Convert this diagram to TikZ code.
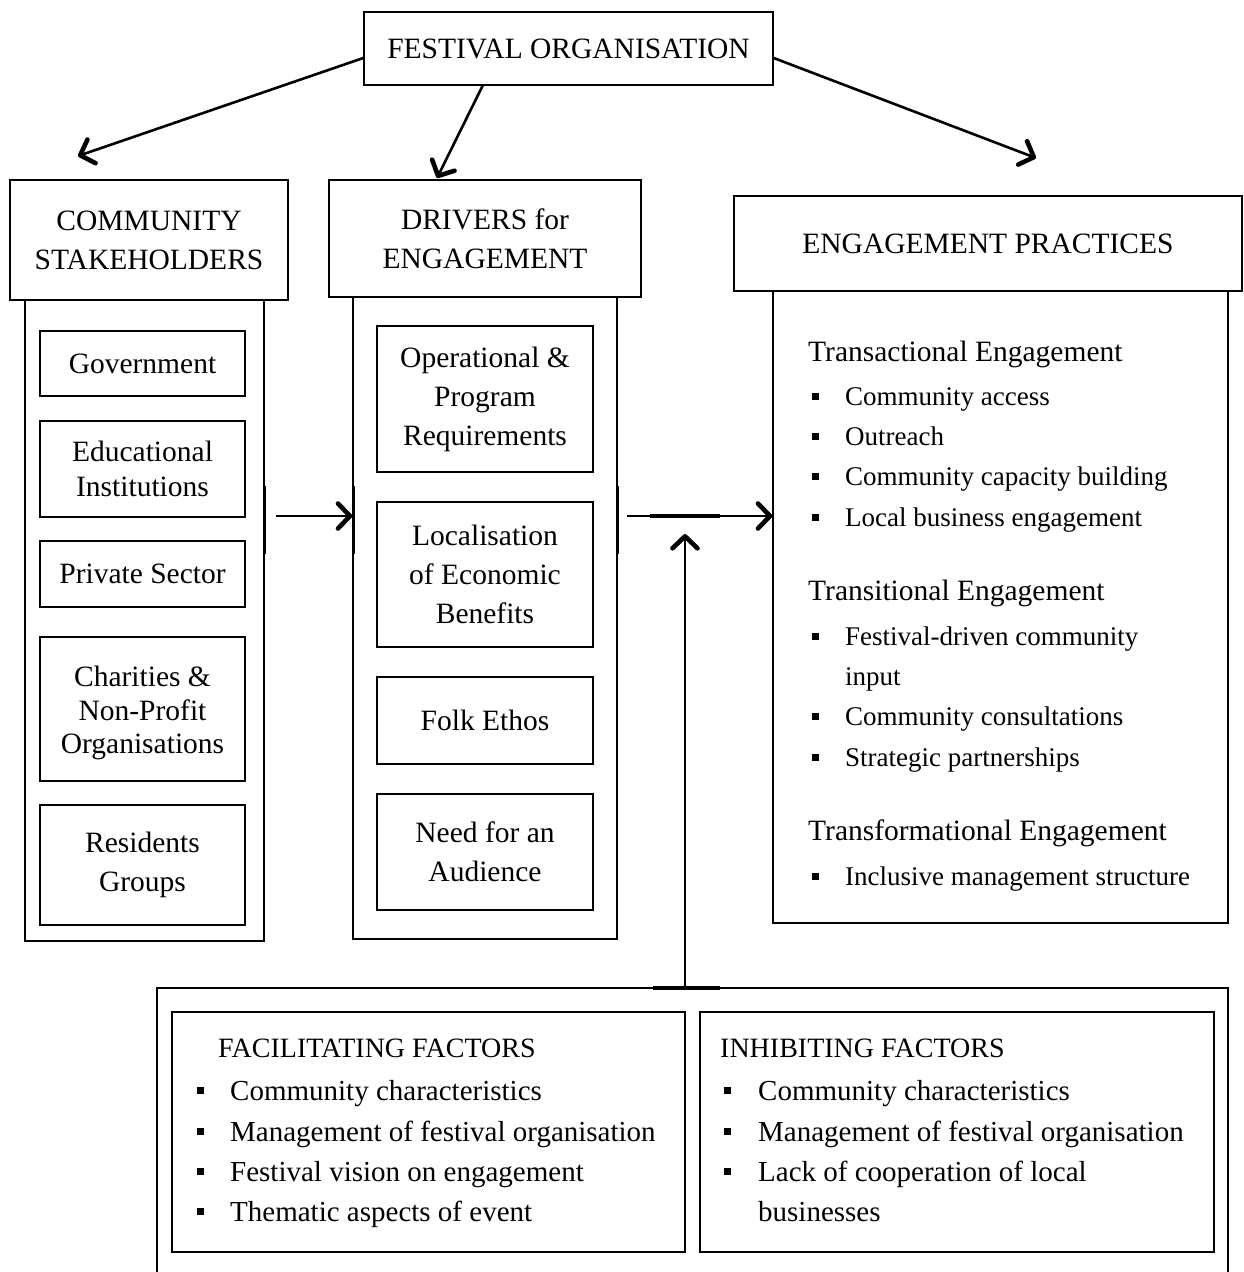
\documentclass[tikz,border=0pt]{standalone}
\usepackage{fontspec}
\setmainfont{Liberation Serif}
\usetikzlibrary{arrows.meta}
\begin{document}
\begin{tikzpicture}[x=1pt,y=-1pt,
  box/.style={draw, line width=1.4pt, inner sep=0pt, align=center, fill=white,
    font=\fontsize{29.5}{39}\selectfont},
  txt/.style={inner sep=0pt, align=center, font=\fontsize{29.5}{33.5}\selectfont},
  arr/.style={line width=2.6pt, -{Straight Barb[length=12pt,width=25pt,line width=4.6pt,round]}},
  sidemark/.style={line width=3pt},
  thickseg/.style={line width=3.2pt},
  head/.style={anchor=base west, inner sep=0pt, font=\fontsize{29.5}{39}\selectfont},
  item/.style={anchor=base west, inner sep=0pt, font=\fontsize{27}{40}\selectfont},
  bhead/.style={anchor=base west, inner sep=0pt, font=\fontsize{28}{39}\selectfont},
  bitem/.style={anchor=base west, inner sep=0pt, font=\fontsize{29}{40}\selectfont},
  bul/.style={fill, minimum size=7pt, inner sep=0pt}]
\clip (0,0) rectangle (1244,1272);
\fill[white] (0,0) rectangle (1244,1272);

% top node
\node[box, minimum width=409pt, minimum height=73pt] (fo) at (568.5,48.5) {FESTIVAL ORGANISATION};

% community stakeholders column
\node[box, minimum width=239pt, minimum height=641pt] (csbody) at (144.5,620.5) {};
\node[box, minimum width=278pt, minimum height=120pt] (cshead) at (149,240) {COMMUNITY\\STAKEHOLDERS};
\node[box, minimum width=205pt, minimum height=65pt] (gov) at (142.5,363.5) {Government};
\node[box, minimum width=205pt, minimum height=96pt, font=\fontsize{29.5}{35}\selectfont] (edu) at (142.5,469) {Educational\\Institutions};
\node[box, minimum width=205pt, minimum height=66pt] (priv) at (142.5,574) {Private Sector};
\node[box, minimum width=205pt, minimum height=144pt] (char) at (142.5,709) {};
\node[txt] (chartxt) at ([yshift=-4pt]char.center) {Charities \&\\Non-Profit\\Organisations};
\node[box, minimum width=205pt, minimum height=120pt] (res) at (142.5,865) {Residents\\Groups};

% drivers column
\node[box, minimum width=264pt, minimum height=642pt] (drbody) at (485,618) {};
\node[box, minimum width=312pt, minimum height=117pt] (drhead) at (485,238.5) {DRIVERS for\\ENGAGEMENT};
\node[box, minimum width=216pt, minimum height=146pt] (op) at (485,399) {Operational \&\\Program\\Requirements};
\node[box, minimum width=216pt, minimum height=145pt] (loc) at (485,574.5) {Localisation\\of Economic\\Benefits};
\node[box, minimum width=216pt, minimum height=87pt] (folk) at (485,720.5) {Folk Ethos};
\node[box, minimum width=216pt, minimum height=116pt] (need) at (485,852) {Need for an\\Audience};

% engagement practices column
\node[box, minimum width=455pt, minimum height=632pt] (epbody) at (1000.5,607) {};
\node[box, minimum width=508pt, minimum height=95pt] (ephead) at (988,243.5) {ENGAGEMENT PRACTICES};

\node[head] (tac) at (808,361) {Transactional Engagement};
\foreach \y/\t [count=\i] in {396/Community access, 436/Outreach, 476/Community capacity building, 517/Local business engagement}{
  \node[bul] (tacb\i) at (815,\y) {};
  \node[item] (taci\i) at (845,\y+9) {\t};
}
\node[head] (tsn) at (808,600) {Transitional Engagement};
\node[bul] (tsnb1) at (815,636) {};
\node[item] (tsni1) at (845,645) {Festival-driven community};
\node[item] (tsni1b) at (845,685) {input};
\node[bul] (tsnb2) at (815,716) {};
\node[item] (tsni2) at (845,725) {Community consultations};
\node[bul] (tsnb3) at (815,757) {};
\node[item] (tsni3) at (845,766) {Strategic partnerships};
\node[head] (tfm) at (808,840) {Transformational Engagement};
\node[bul] (tfmb1) at (815,876) {};
\node[item] (tfmi1) at (845,885) {Inclusive management structure};

% factors
\draw[line width=1.4pt] (157,1290) -- (157,988) coordinate (ftl) -- (1228,988) -- (1228,1290);
\coordinate (factop) at (685,988);
\draw[thickseg] (653,988) -- (720,988);
\node[box, minimum width=513pt, minimum height=240pt] (fac) at (428.5,1132) {};
\node[box, minimum width=514pt, minimum height=240pt] (inh) at (957,1132) {};

\node[bhead] (fach) at (218,1057) {FACILITATING FACTORS};
\foreach \y/\t [count=\i] in {1090/Community characteristics, 1131/Management of festival organisation, 1171/Festival vision on engagement, 1211/Thematic aspects of event}{
  \node[bul] (facb\i) at (200,\y) {};
  \node[bitem] (faci\i) at (230,\y+10) {\t};
}
\node[bhead] (inhh) at (720,1057) {INHIBITING FACTORS};
\foreach \y/\t [count=\i] in {1090/Community characteristics, 1131/Management of festival organisation, 1171/Lack of cooperation of local}{
  \node[bul] (inhb\i) at (727,\y) {};
  \node[bitem] (inhi\i) at (758,\y+10) {\t};
}
\node[bitem] (inhi3b) at (758,1221) {businesses};

% side marks where the flow enters and leaves the columns
\draw[sidemark] (264,486) -- (264,554);
\draw[sidemark] (353,486) -- (353,554);
\draw[sidemark] (617,486) -- (617,554);

% arrows from the festival organisation
\coordinate (t1) at (78,156);
\coordinate (t2) at (437,178);
\coordinate (t3) at (1036,158);
\draw[arr] (fo.west |- 0,58) -- (t1);
\draw[arr] (483,85) -- (t2);
\draw[arr] (fo.east |- 0,58) -- (t3);

% flow arrows
\coordinate (c1) at (276,516);
\coordinate (c2) at (627,516);
\coordinate (upt) at (685,534);
\draw[arr] (c1) -- (drbody.west |- c1);
\draw[arr] (c2) -- (epbody.west |- c2);
\draw[thickseg] (650,516) -- (720,516);
\draw[arr] (factop) -- (upt);
\end{tikzpicture}
\end{document}
